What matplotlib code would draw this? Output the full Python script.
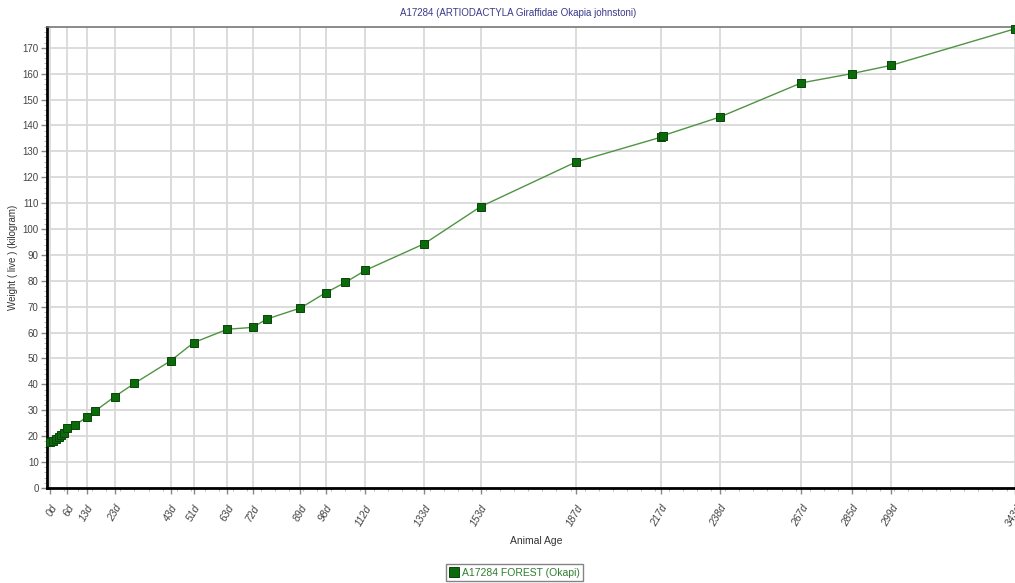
import matplotlib
matplotlib.use('Agg')
import matplotlib.pyplot as plt
from matplotlib.ticker import MultipleLocator, FixedLocator

# Courbe de poids de l'okapi A17284
jours = [0, 1, 2, 3, 4, 5, 6, 9, 13, 16, 23, 30, 43, 51, 63, 72, 77, 89, 98, 105,
         112, 133, 153, 187, 217, 218, 238, 267, 285, 299, 343]
poids = [17.6, 18.2, 18.9, 19.7, 20.6, 21.4, 23.0, 24.3, 27.4, 29.7, 35.3, 40.4,
         49.2, 56.1, 61.3, 62.0, 65.2, 69.5, 75.4, 79.4, 84.0, 94.3, 108.6, 125.9,
         135.4, 136.1, 143.2, 156.4, 160.0, 163.2, 177.3]

jours_affiches = [0, 6, 13, 23, 43, 51, 63, 72, 89, 98, 112, 133, 153, 187, 217,
                  238, 267, 285, 299, 343]
etiquettes = [f'{j}d' for j in jours_affiches]

plt.rcParams['font.family'] = ['Liberation Sans', 'DejaVu Sans']

fig = plt.figure(figsize=(10.15, 5.83), dpi=100)
ax = fig.add_axes([0.0463, 0.163, 0.9537, 0.7907])

ax.plot(jours, poids, color='#4f9443', linewidth=1.0, marker='s', markersize=5.5,
        markerfacecolor='#0b6b0b', markeredgecolor='#094409', markeredgewidth=0.7,
        label='A17284 FOREST (Okapi)', clip_on=False, zorder=3)

ax.set_xlim(-1.1, 343)
ax.set_ylim(0, 178)

ax.xaxis.set_major_locator(FixedLocator(jours_affiches))
ax.set_xticklabels(etiquettes)
ax.xaxis.set_minor_locator(MultipleLocator(5))
ax.yaxis.set_major_locator(MultipleLocator(10))
ax.yaxis.set_minor_locator(MultipleLocator(2))

ax.grid(True, which='major', color='#d9d9d9', linewidth=1.3)
ax.set_axisbelow(True)

for s in ['left', 'bottom']:
    ax.spines[s].set_linewidth(2)
    ax.spines[s].set_color('black')
ax.spines['top'].set_color('#777777')
ax.spines['top'].set_linewidth(1.2)
ax.spines['right'].set_visible(False)

ax.tick_params(axis='both', which='major', length=4, width=1, color='#888888',
               labelsize=7.5, labelcolor='#444444')
ax.tick_params(axis='y', which='major', labelsize=7, pad=2)
ax.tick_params(axis='both', which='minor', length=2, width=0.6, color='#b0b0b0')
ax.tick_params(axis='x', which='major', pad=7)
plt.setp(ax.get_xticklabels(), rotation=60, ha='right', rotation_mode='anchor',
         style='italic')

ax.set_xlabel('Animal Age', fontsize=7.5, color='#333333')
ax.xaxis.set_label_coords(0.505, -0.105)
ax.set_ylabel('Weight ( live ) (kilogram)', fontsize=7, color='#333333')
ax.yaxis.set_label_coords(-0.030, 0.5)

fig.text(0.51, 0.977, 'A17284 (ARTIODACTYLA Giraffidae Okapia johnstoni)',
         ha='center', va='center', fontsize=7, color='#3a3a8c')

leg = fig.legend(loc='lower center', bbox_to_anchor=(0.507, -0.005), fontsize=7.5,
                 frameon=True, fancybox=False, edgecolor='#666666',
                 handlelength=0.8, handletextpad=0.4, borderpad=0.3)
for t in leg.get_texts():
    t.set_color('#2e7d2e')
for h in leg.legend_handles:
    h.set_linestyle('none')
    h.set_markersize(7)

plt.savefig('out.png', dpi=100)
plt.close()
